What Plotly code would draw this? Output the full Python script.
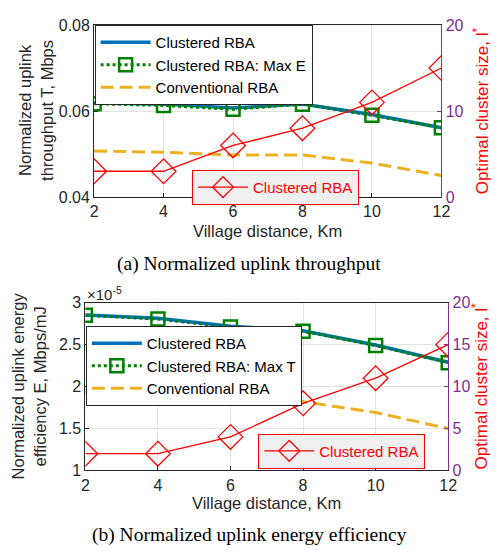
import plotly.graph_objects as go

# ---------------- data ----------------
distance_km = [2, 4, 6, 8, 10, 12]

# (a) throughput, Mbps
thr_clustered = [0.0619, 0.0616, 0.0607, 0.0616, 0.0592, 0.0561]
thr_clustered_maxE = [0.0617, 0.0613, 0.0604, 0.0616, 0.0590, 0.0561]
thr_conventional = [0.0507, 0.0504, 0.0498, 0.0498, 0.0479, 0.0450]
size_a = [3, 3, 6, 8, 11, 15]

# (b) energy efficiency, x1e-5 Mbps/mJ
ee_clustered = [2.855, 2.815, 2.72, 2.665, 2.495, 2.29]
ee_clustered_maxT = [2.85, 2.805, 2.71, 2.66, 2.49, 2.285]
ee_conventional = [1.93, 1.91, 1.875, 1.82, 1.69, 1.5]
size_b = [2, 2, 4, 8, 11, 15]

x_ticks = [2, 4, 6, 8, 10, 12]
thr_ticks = [0.04, 0.06, 0.08]
ee_ticks = [1, 1.5, 2, 2.5, 3]

# ---------------- style ----------------
W, H = 503, 557
BLUE = "#0072BD"
GREEN = "#008000"
ORANGE = "#EDB120"
RED = "#FF0000"
PURPLE = "#7E2F8E"
AX = "#262626"
GRID = "#E3E3E3"
FONT = "Liberation Sans"

def px_x(v):
    return v / W

def px_y(v):
    return 1 - v / H

fig = go.Figure()

diamond = dict(symbol="diamond-open", size=19, color=RED, line=dict(width=1.3, color=RED))
square = dict(symbol="square-open", size=13, color=GREEN, line=dict(width=2.5, color=GREEN))

# ---- (a) ----
fig.add_trace(go.Scatter(x=distance_km, y=thr_clustered, mode="lines", name="Clustered RBA",
                         line=dict(color=BLUE, width=3.5), xaxis="x", yaxis="y", legend="legend"))
fig.add_trace(go.Scatter(x=distance_km, y=thr_clustered_maxE, mode="lines+markers", name="Clustered RBA: Max E",
                         line=dict(color=GREEN, width=3, dash="dot"), marker=square,
                         xaxis="x", yaxis="y", legend="legend"))
fig.add_trace(go.Scatter(x=distance_km, y=thr_conventional, mode="lines", name="Conventional RBA",
                         line=dict(color=ORANGE, width=3, dash="13px,6px"), xaxis="x", yaxis="y", legend="legend"))
fig.add_trace(go.Scatter(x=distance_km, y=size_a, mode="lines+markers", name="Clustered RBA",
                         line=dict(color=RED, width=1.3), marker=diamond,
                         xaxis="x", yaxis="y2", legend="legend2"))

# ---- (b) ----
fig.add_trace(go.Scatter(x=distance_km, y=ee_clustered, mode="lines", name="Clustered RBA",
                         line=dict(color=BLUE, width=3.5), xaxis="x3", yaxis="y3", legend="legend3"))
fig.add_trace(go.Scatter(x=distance_km, y=ee_clustered_maxT, mode="lines+markers", name="Clustered RBA: Max T",
                         line=dict(color=GREEN, width=3, dash="dot"), marker=square,
                         xaxis="x3", yaxis="y3", legend="legend3"))
fig.add_trace(go.Scatter(x=distance_km, y=ee_conventional, mode="lines", name="Conventional RBA",
                         line=dict(color=ORANGE, width=3, dash="13px,6px"), xaxis="x3", yaxis="y3", legend="legend3"))
fig.add_trace(go.Scatter(x=distance_km, y=size_b, mode="lines+markers", name="Clustered RBA",
                         line=dict(color=RED, width=1.3), marker=diamond,
                         xaxis="x3", yaxis="y4", legend="legend4"))

dom_a_x = [px_x(92.5), px_x(449)]
dom_a_y = [px_y(195), px_y(17.5)]
dom_b_x = [px_x(83.5), px_x(456)]
dom_b_y = [px_y(477), px_y(304)]

tickfont = dict(family=FONT, size=16, color=AX)

def xaxis(dom, anchor):
    return dict(domain=dom, anchor=anchor, range=[2, 12], tickvals=x_ticks,
                showgrid=True, gridcolor=GRID, gridwidth=1, zeroline=False,
                showline=True, linecolor=AX, linewidth=1, mirror=True,
                ticks="inside", ticklen=4, tickcolor=AX, tickfont=tickfont)

def yleft(dom, anchor, rng, tv):
    return dict(domain=dom, anchor=anchor, range=rng, tickvals=tv,
                showgrid=True, gridcolor=GRID, gridwidth=1, zeroline=False,
                showline=True, linecolor=AX, linewidth=1,
                ticks="inside", ticklen=4, tickcolor=AX, tickfont=tickfont)

def yright(overlay, anchor, tv):
    return dict(overlaying=overlay, anchor=anchor, side="right", range=[0, 20], tickvals=tv,
                showgrid=False, zeroline=False, showline=True, linecolor=PURPLE, linewidth=1.2,
                ticks="inside", ticklen=4, tickcolor=PURPLE,
                tickfont=dict(family=FONT, size=16, color=PURPLE))

leg_font = dict(family=FONT, size=15, color="#000000")

fig.update_layout(
    width=W, height=H,
    margin=dict(l=0, r=0, t=0, b=0),
    paper_bgcolor="white", plot_bgcolor="white",
    font=dict(family=FONT, size=16, color=AX),
    xaxis=xaxis(dom_a_x, "y"),
    yaxis=yleft(dom_a_y, "x", [0.04, 0.08], thr_ticks),
    yaxis2=yright("y", "x", [0, 10, 20]),
    xaxis3=xaxis(dom_b_x, "y3"),
    yaxis3=yleft(dom_b_y, "x3", [1, 3], ee_ticks),
    yaxis4=yright("y3", "x3", [0, 5, 10, 15, 20]),
    legend=dict(x=px_x(93), y=px_y(17.5), xanchor="left", yanchor="top",
                bgcolor="white", bordercolor="#262626", borderwidth=1, font=leg_font,
                tracegroupgap=0, itemwidth=50),
    legend2=dict(x=px_x(193), y=px_y(167), xanchor="left", yanchor="top",
                 bgcolor="#F0F0F0", bordercolor=RED, borderwidth=1,
                 font=dict(family=FONT, size=15, color=RED), itemwidth=50),
    legend3=dict(x=px_x(84), y=px_y(328), xanchor="left", yanchor="top",
                 bgcolor="white", bordercolor="#262626", borderwidth=1, font=leg_font,
                 tracegroupgap=0, itemwidth=50),
    legend4=dict(x=px_x(261), y=px_y(439), xanchor="left", yanchor="top",
                 bgcolor="#F0F0F0", bordercolor=RED, borderwidth=1,
                 font=dict(family=FONT, size=15, color=RED), itemwidth=50),
    showlegend=True,
)

ann = []
# left titles
ann.append(dict(text="Normalized uplink<br>throughput T, Mbps", x=px_x(33), y=px_y(106),
                xref="paper", yref="paper", textangle=-90, showarrow=False,
                font=dict(family=FONT, size=16.5, color=AX), xanchor="center", yanchor="middle"))
ann.append(dict(text="Normalized uplink energy<br>efficiency E, Mbps/mJ", x=px_x(25), y=px_y(390),
                xref="paper", yref="paper", textangle=-90, showarrow=False,
                font=dict(family=FONT, size=16.5, color=AX), xanchor="center", yanchor="middle"))
# right titles
ann.append(dict(text="Optimal cluster size, l<sup>*</sup>", x=px_x(489), y=px_y(106),
                xref="paper", yref="paper", textangle=-90, showarrow=False,
                font=dict(family=FONT, size=17, color=RED), xanchor="center", yanchor="middle"))
ann.append(dict(text="Optimal cluster size, l<sup>*</sup>", x=px_x(489), y=px_y(390),
                xref="paper", yref="paper", textangle=-90, showarrow=False,
                font=dict(family=FONT, size=17, color=RED), xanchor="center", yanchor="middle"))
# x titles
ann.append(dict(text="Village distance, Km", x=(dom_a_x[0] + dom_a_x[1]) / 2, y=px_y(230),
                xref="paper", yref="paper", showarrow=False,
                font=dict(family=FONT, size=16.5, color=AX), xanchor="center", yanchor="middle"))
ann.append(dict(text="Village distance, Km", x=(dom_b_x[0] + dom_b_x[1]) / 2, y=px_y(511),
                xref="paper", yref="paper", showarrow=False,
                font=dict(family=FONT, size=16.5, color=AX), xanchor="center", yanchor="middle"))
# exponent
ann.append(dict(text="×10<sup>-5</sup>", x=px_x(83), y=px_y(295),
                xref="paper", yref="paper", showarrow=False,
                font=dict(family=FONT, size=15, color=AX), xanchor="left", yanchor="middle"))
# captions
ann.append(dict(text="(a) Normalized uplink throughput", x=0.5, y=px_y(264),
                xref="paper", yref="paper", showarrow=False,
                font=dict(family="Liberation Serif", size=19.5, color="#000000"), xanchor="center", yanchor="middle"))
ann.append(dict(text="(b) Normalized uplink energy efficiency", x=0.5, y=px_y(544),
                xref="paper", yref="paper", showarrow=False,
                font=dict(family="Liberation Serif", size=19.5, color="#000000"), xanchor="center", yanchor="middle"))

fig.update_layout(annotations=ann)

fig.write_html("out.html")
